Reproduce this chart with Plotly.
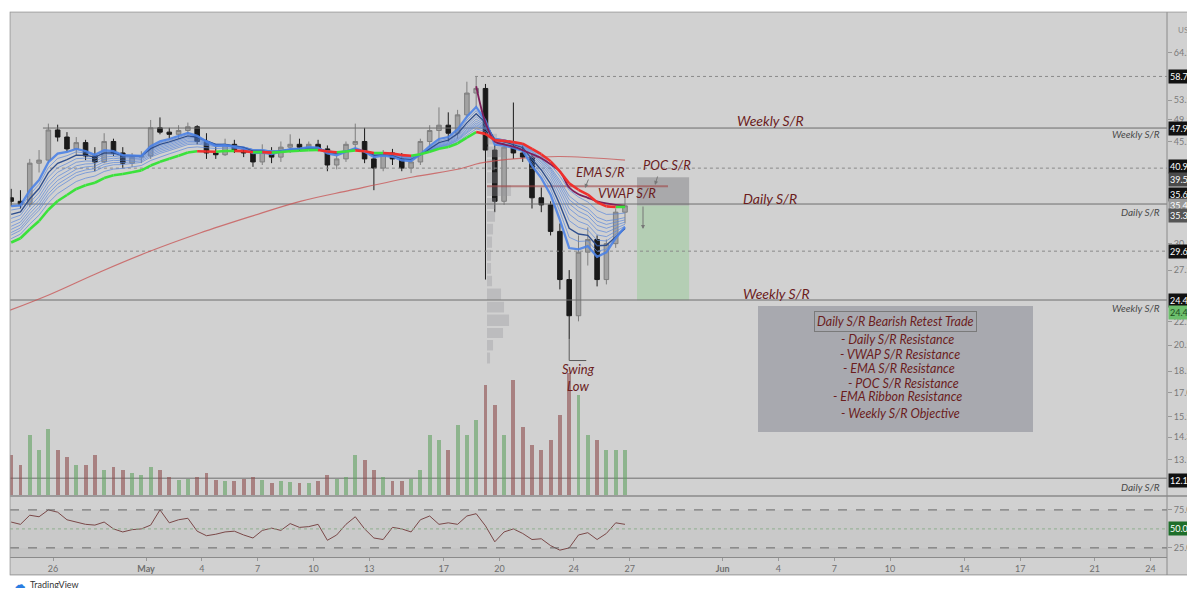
import numpy as np
import pandas as pd
import plotly.graph_objects as go

# ---------------- data (12h candles, USDT) ----------------
first_candle = "2021-04-23 18:00"
opens = [36.5, 36.0, 35.6, 41.8, 42.3, 47.6, 46.3, 44.2, 45.3, 43.0,
         42.0, 45.5, 43.5, 41.8, 42.8, 43.0, 48.0, 47.2, 46.8, 47.5,
         48.2, 45.5, 43.5, 43.2, 45.0, 44.0, 43.5, 42.0, 43.8, 42.8,
         44.5, 45.0, 44.5, 45.0, 44.2, 41.5, 42.5, 45.0, 45.5, 42.5,
         41.0, 43.5, 42.5, 41.0, 42.0, 45.5, 47.5, 48.5, 47.0, 50.5,
         55.0, 56.0, 44.0, 36.0, 44.5, 43.5, 42.8, 36.5, 35.5, 32.0,
         26.5, 23.0, 29.5, 31.0, 26.5, 30.5, 34.5]
highs = [37.8, 37.6, 42.5, 44.0, 48.8, 48.6, 47.2, 46.3, 45.8, 44.5,
         47.0, 46.0, 44.5, 43.5, 43.8, 49.5, 50.0, 48.0, 48.5, 49.0,
         48.5, 47.0, 44.5, 46.0, 45.8, 44.5, 44.0, 45.0, 44.5, 45.5,
         46.8, 46.0, 45.5, 45.8, 44.8, 43.0, 45.5, 48.8, 48.0, 43.5,
         44.0, 44.2, 43.5, 42.8, 46.0, 48.5, 52.0, 51.0, 51.5, 57.5,
         58.7, 57.0, 45.0, 45.5, 53.0, 44.8, 43.2, 38.0, 36.0, 33.0,
         27.5, 31.5, 32.5, 31.5, 31.0, 35.0, 36.5]
lows = [35.3, 35.0, 35.2, 40.3, 41.8, 45.5, 43.8, 43.0, 42.3, 40.5,
        41.8, 43.0, 41.0, 41.2, 41.8, 42.5, 46.8, 46.0, 46.0, 46.8,
        45.0, 42.5, 42.5, 43.0, 43.5, 42.8, 41.2, 41.5, 41.8, 42.0,
        43.5, 43.8, 44.0, 43.8, 40.5, 40.8, 42.0, 44.0, 41.8, 37.6,
        40.5, 41.5, 40.5, 40.2, 41.5, 44.5, 45.5, 45.5, 46.0, 50.0,
        52.0, 26.5, 34.5, 35.5, 42.5, 42.0, 35.0, 34.5, 31.5, 25.5,
        21.0, 22.5, 28.0, 25.8, 26.0, 30.0, 33.0]
closes = [36.0, 35.6, 41.8, 42.3, 47.6, 46.3, 44.2, 45.3, 43.0, 42.0,
          45.5, 43.5, 41.8, 42.8, 43.0, 48.0, 47.2, 46.8, 47.5, 48.2,
          45.5, 43.5, 43.2, 45.0, 44.0, 43.5, 42.0, 43.8, 42.8, 44.5,
          45.0, 44.5, 45.0, 44.2, 41.5, 42.5, 45.0, 45.5, 42.5, 41.0,
          43.5, 42.5, 41.0, 42.0, 45.5, 47.5, 48.5, 47.0, 50.5, 55.0,
          56.0, 44.0, 36.0, 44.5, 43.5, 42.8, 36.5, 35.5, 32.0, 26.5,
          23.0, 29.5, 31.0, 26.5, 30.5, 34.5, 35.37]
volumes = [40, 30, 60, 45, 66, 45, 38, 30, 30, 40,
           25, 28, 25, 22, 20, 28, 25, 18, 15, 16,
           18, 22, 15, 14, 14, 16, 18, 15, 12, 14,
           13, 12, 12, 14, 20, 16, 18, 40, 35, 25,
           18, 14, 14, 16, 25, 60, 55, 45, 70, 60,
           75, 110, 90, 60, 115, 68, 50, 45, 55, 80,
           122, 100, 60, 55, 45, 45, 45]
rsi = [59, 56, 68, 66, 75, 72, 62, 59, 56, 55,
       59, 50, 46, 49, 50, 55, 75, 58, 62, 64,
       47, 41, 43, 46, 47, 42, 38, 48, 51, 48,
       57, 52, 53, 56, 35, 42, 56, 66, 50, 38,
       36, 52, 50, 46, 62, 67, 56, 58, 56, 67,
       70, 54, 33, 46, 50, 44, 36, 37, 28, 22,
       25, 42, 45, 36, 44, 58, 56]

ema_periods = [5, 6, 7, 8, 9, 10, 11, 12, 13, 15, 18]
ema_seeds = [35.0, 34.3, 33.6, 33.0, 32.4, 31.9, 31.5, 31.1, 30.8, 30.4, 30.0]

ma_long_times = ["2021-04-23 16:30", "2021-04-25 20:00", "2021-04-28 12:40", "2021-05-01 05:00",
                 "2021-05-03 21:40", "2021-05-06 14:20", "2021-05-09 07:00", "2021-05-12 00:00",
                 "2021-05-15 08:30", "2021-05-17 21:30", "2021-05-18 23:00", "2021-05-21 02:40",
                 "2021-05-23 06:00", "2021-05-26 18:00"]
ma_long_values = [23.5, 25.0, 27.3, 29.6, 31.8, 33.9, 36.0, 37.6, 39.6, 40.9, 41.8, 42.6, 42.9, 42.3]

vwap_start_index = 50
vwap_values = [56.5, 49.0, 45.5, 45.0, 44.6, 44.0, 43.3, 42.6, 41.6, 40.5,
               38.0, 37.0, 36.5, 36.0, 35.7, 35.5, 35.4]

level_values = [58.700, 47.962, 40.992, 35.619, 29.617, 24.461, 12.176]
level_dash = ["dot", "solid", "dot", "solid", "dot", "solid", "solid"]
level_start = ["2021-05-18 16:30", "2021-04-25 11:00", "2021-04-25 20:00", "2021-04-23 16:30",
               "2021-04-23 16:30", "2021-04-23 16:30", "2021-04-23 16:30"]

poc_price = 38.2
poc_start, poc_end = "2021-05-19 08:00", "2021-05-29 01:30"

vp_anchor = "2021-05-19 08:00"
vp_edges = [19.0, 20.0, 21.0, 22.0, 23.2, 24.4, 25.7, 27.0, 28.4, 29.9,
            31.5, 33.1, 34.8, 36.6, 38.5, 40.5, 42.6, 44.8, 47.1]
vp_volume = [3, 6, 16, 22, 17, 14, 5, 4, 4, 5, 6, 8, 9, 24, 10, 8, 20, 10]
vp_hours_per_unit = 1.29

pos_stop, pos_entry, pos_target = 39.54, 35.43, 24.43
pos_start, pos_end = "2021-05-27 09:30", "2021-05-30 04:45"

swing_marker_price = 19.3

x_left, x_right = "2021-04-23 16:30", "2021-06-24 21:20"
x_tickvals = ["2021-04-26", "2021-05-01", "2021-05-04", "2021-05-07", "2021-05-10", "2021-05-13",
              "2021-05-17", "2021-05-20", "2021-05-24", "2021-05-27", "2021-06-01", "2021-06-04",
              "2021-06-07", "2021-06-10", "2021-06-14", "2021-06-17", "2021-06-21", "2021-06-24"]
x_ticktext = ["26", "<b>May</b>", "4", "7", "10", "13", "17", "20", "24", "27", "<b>Jun</b>",
              "4", "7", "10", "14", "17", "21", "24"]
price_ticks = [64.5, 53.5, 49.5, 45.5, 30.5, 27.5, 22.5, 20.5, 18.5, 17.0, 15.5, 14.3, 13.1]
price_range = [11.40, 75.25]
rsi_range = [13, 92]

# ---------------- figure ----------------
# the page places the figure 8 px from the window's top-left corner
PAGE = 8
W, H = 1195 - PAGE, 596 - 2 * PAGE
ML, MT = 10 - PAGE, 13 - PAGE
MR = W - (1167 - PAGE)
MB = H - (557 - PAGE)
PW, PH = W - ML - MR, H - MT - MB
def px(x): return (x - PAGE - ML) / PW      # x, y in window pixels
def py(y): return (H - MB - (y - PAGE)) / PH

BG = "#d1d1d1"
DR = "#6b1d1d"
FONT = "Lato"

t = pd.date_range(first_candle, periods=len(closes), freq="12h")
c = np.array(closes)

fig = go.Figure()

# volume profile boxes
vx, vy = [], []
t_anchor = pd.Timestamp(vp_anchor)
for lo, hi, v in zip(vp_edges[:-1], vp_edges[1:], vp_volume):
    t1 = t_anchor + pd.Timedelta(hours=v * vp_hours_per_unit)
    vx += [t_anchor, t1, t1, t_anchor, t_anchor, None]
    vy += [lo * 1.004, lo * 1.004, hi / 1.004, hi / 1.004, lo * 1.004, None]
fig.add_trace(go.Scatter(x=vx, y=vy, mode="lines", fill="toself", line=dict(width=0),
                         fillcolor="rgba(150,150,155,0.35)", hoverinfo="skip"))

# position tool
ps, pe = pd.Timestamp(pos_start), pd.Timestamp(pos_end)
fig.add_trace(go.Scatter(x=[ps, pe, pe, ps, ps], y=[pos_entry, pos_entry, pos_stop, pos_stop, pos_entry],
                         mode="lines", fill="toself", line=dict(width=0), fillcolor="rgba(105,105,110,0.38)"))
fig.add_trace(go.Scatter(x=[ps, pe, pe, ps, ps], y=[pos_target, pos_target, pos_entry, pos_entry, pos_target],
                         mode="lines", fill="toself", line=dict(width=0), fillcolor="rgba(120,200,120,0.33)"))

# horizontal S/R levels
for v, d, s in zip(level_values, level_dash, level_start):
    fig.add_trace(go.Scatter(x=[pd.Timestamp(s), pd.Timestamp(x_right)], y=[v, v], mode="lines",
                             line=dict(color="#6e6e6e" if d == "solid" else "#8a8a8a", width=1, dash=d)))

# long moving average
fig.add_trace(go.Scatter(x=pd.to_datetime(ma_long_times), y=ma_long_values, mode="lines",
                         line=dict(color="rgba(200,80,80,0.75)", width=1.2, shape="spline")))

# POC line
fig.add_trace(go.Scatter(x=[pd.Timestamp(poc_start), pd.Timestamp(poc_end)], y=[poc_price, poc_price],
                         mode="lines", line=dict(color="rgba(160,70,70,0.6)", width=2)))

# EMA ribbon
ribbon = []
for p, s in zip(ema_periods, ema_seeds):
    a = 2.0 / (p + 1)
    e = s
    vals = []
    for v in c:
        e = e + a * (v - e)
        vals.append(e)
    ribbon.append(np.array(vals))
for k, p in enumerate(ema_periods[1:-1], start=1):
    if p == 7:
        continue
    fig.add_trace(go.Scatter(x=t, y=ribbon[k], mode="lines", line=dict(color="rgba(90,135,220,0.7)", width=1)))
fig.add_trace(go.Scatter(x=t, y=ribbon[ema_periods.index(7)], mode="lines",
                         line=dict(color="#2f4f8f", width=1.4)))
fig.add_trace(go.Scatter(x=t, y=ribbon[0], mode="lines", line=dict(color="rgba(75,130,230,0.9)", width=2.3)))

# VWAP (anchored)
fig.add_trace(go.Scatter(x=t[vwap_start_index:vwap_start_index + len(vwap_values)], y=vwap_values,
                         mode="lines", line=dict(color="#7d1f5a", width=1.8, shape="spline")))

# slowest EMA coloured by price side
slow = ribbon[-1]
above = c >= slow
gx, gy, rx, ry = [], [], [], []
for i in range(len(c) - 1):
    X, Y = (gx, gy) if above[i + 1] else (rx, ry)
    X += [t[i], t[i + 1], None]
    Y += [slow[i], slow[i + 1], None]
fig.add_trace(go.Scatter(x=gx, y=gy, mode="lines", line=dict(color="#3be23b", width=2.6)))
fig.add_trace(go.Scatter(x=rx, y=ry, mode="lines", line=dict(color="#f0302c", width=2.6)))

# candles
fig.add_trace(go.Candlestick(x=t, open=opens, high=highs, low=lows, close=closes, whiskerwidth=0,
                             increasing=dict(line=dict(color="#7f7f7f", width=1), fillcolor="#a2a2a2"),
                             decreasing=dict(line=dict(color="#1a1a1a", width=1), fillcolor="#1a1a1a")))

# swing low marker
isw = int(np.argmin(lows))
fig.add_trace(go.Scatter(x=[t[isw], t[isw], t[isw] + pd.Timedelta(hours=22)],
                         y=[lows[isw], swing_marker_price, swing_marker_price],
                         mode="lines", line=dict(color="#5a5a5a", width=1)))

# volume
vcol = ["rgba(95,160,95,0.6)" if cl >= op else "rgba(140,75,75,0.6)" for op, cl in zip(opens, closes)]
fig.add_trace(go.Bar(x=t, y=volumes, marker=dict(color=vcol, line=dict(width=0)),
                     width=12 * 3600 * 1000 * 0.42, yaxis="y3"))

# RSI
fig.add_trace(go.Scatter(x=t, y=rsi, mode="lines", line=dict(color="#7a4848", width=1), yaxis="y2"))

shapes = []
# RSI pane band & levels
shapes.append(dict(type="rect", xref="paper", yref="y2", x0=0, x1=1, y0=25, y1=75,
                   fillcolor="rgba(0,0,0,0.035)", line=dict(width=0), layer="below"))
shapes.append(dict(type="rect", xref="paper", yref="y2", x0=0, x1=1, y0=rsi_range[0], y1=25,
                   fillcolor="rgba(0,0,0,0.06)", line=dict(width=0), layer="below"))
for lv, dsh, col in [(75, "dash", "#666"), (25, "dash", "#666"), (50, "dot", "#8fae8f")]:
    shapes.append(dict(type="line", xref="paper", yref="y2", x0=0, x1=1, y0=lv, y1=lv,
                       line=dict(color=col, width=1, dash=dsh)))
# pane separator
shapes.append(dict(type="line", xref="paper", yref="paper", x0=px(10), x1=px(1195), y0=py(496), y1=py(496),
                   line=dict(color="#8a8a8a", width=1.5)))
# price axis vertical line and frame lines
shapes.append(dict(type="line", xref="paper", yref="paper", x0=1, x1=1, y0=py(575), y1=py(12),
                   line=dict(color="#8a8a8a", width=1)))
shapes.append(dict(type="line", xref="paper", yref="paper", x0=px(10), x1=px(1195), y0=py(575), y1=py(575),
                   line=dict(color="#8a8a8a", width=1)))
shapes.append(dict(type="line", xref="paper", yref="paper", x0=px(10), x1=px(10), y0=py(575), y1=py(12),
                   line=dict(color="#9a9a9a", width=1)))
shapes.append(dict(type="line", xref="paper", yref="paper", x0=px(10), x1=px(1195), y0=py(12), y1=py(12),
                   line=dict(color="#9a9a9a", width=1)))
# white page margins
for x0, x1, y0, y1 in [(-5, 9.5, -5, 700), (-5, 1300, -5, 11.5), (-5, 1300, 575.5, 700)]:
    shapes.append(dict(type="rect", xref="paper", yref="paper", x0=px(x0), x1=px(x1), y0=py(y1), y1=py(y0),
                       fillcolor="white", line=dict(width=0), layer="above"))
# info box
shapes.append(dict(type="rect", xref="paper", yref="paper", x0=px(758), x1=px(1033), y0=py(432), y1=py(306),
                   fillcolor="rgba(135,137,147,0.55)", line=dict(width=0)))

ann = []
def txt(x, y, s, size=13, color=DR, **kw):
    d = dict(x=px(x), y=py(y), xref="paper", yref="paper", text="<i>%s</i>" % s, showarrow=False,
             font=dict(size=size, color=color, family=FONT), xanchor="center", yanchor="middle")
    d.update(kw)
    ann.append(d)

txt(770, 121, "Weekly S/R", 14)
txt(770, 198, "Daily S/R", 14)
txt(776, 293, "Weekly S/R", 14)
txt(600, 172, "EMA S/R", 13)
txt(627, 193, "VWAP S/R", 13)
txt(667, 165, "POC S/R", 13)
txt(578, 377, "Swing<br>Low", 13)
for y, s in [(134, "Weekly S/R"), (212, "Daily S/R"), (308, "Weekly S/R"), (487, "Daily S/R")]:
    txt(1162, y, s, 10, "#4a4a4a", xanchor="right")
txt(895, 321, "Daily S/R Bearish Retest Trade", 12.5, bordercolor="#7a7a7a", borderwidth=1, borderpad=2)
for x, y, s in [(897, 339, "- Daily S/R Resistance"), (900, 354, "- VWAP S/R Resistance"),
                (899, 368, "- EMA S/R Resistance"), (903, 383, "- POC S/R Resistance"),
                (897, 397, "- EMA Ribbon Resistance"), (900, 413, "- Weekly S/R Objective")]:
    txt(x, y, s, 12.5)

# small arrows
for x, y, ax_, ay_ in [(585, 188, 4, -10), (655, 185, 3, -10), (643, 229, 0, -24)]:
    ann.append(dict(x=px(x), y=py(y), xref="paper", yref="paper", text="", showarrow=True,
                    ax=ax_, ay=ay_, arrowhead=2, arrowsize=0.8, arrowwidth=1, arrowcolor="#777"))

# price labels on the axis
def plabel(v, s, bg, fg="white", yshift=0, yref="y"):
    yy = np.log10(v) if yref == "y" else v
    ann.append(dict(x=1, y=yy, xref="paper", yref=yref, text=s, showarrow=False, xanchor="left",
                    yanchor="middle", xshift=1, yshift=yshift, bgcolor=bg, borderpad=1,
                    font=dict(size=9, color=fg, family=FONT)))

plabel(58.700, "58.700", "#111")
plabel(47.962, "47.962", "#111")
plabel(40.992, "40.992", "#111", yshift=2)
plabel(39.540, "39.540", "#4a4a4a", yshift=-2)
plabel(35.619, "35.619", "#111", yshift=10)
plabel(35.430, "35.430", "#9a9a9a", yshift=0)
plabel(35.366, "35.366", "#555", yshift=-10)
plabel(29.617, "29.617", "#111")
plabel(24.461, "24.461", "#111")
plabel(24.430, "24.430", "#6cbf6c", fg="#1d4d1f", yshift=-12)
plabel(12.176, "12.176", "#111", yshift=-2)
plabel(50, "50.00", "#1e6e2a", yref="y2")

ann.append(dict(x=px(1176), y=py(23), xref="paper", yref="paper", text="USDT", showarrow=False,
                font=dict(size=8, color="#888", family=FONT), xanchor="left"))
ann.append(dict(x=px(11), y=py(584), xref="paper", yref="paper", text="☁", showarrow=False,
                font=dict(size=13, color="#2a7de1"), xanchor="left", yanchor="middle"))
ann.append(dict(x=px(28), y=py(584), xref="paper", yref="paper", text="TradingView", showarrow=False,
                font=dict(size=9, color="#333", family=FONT), xanchor="left", yanchor="middle"))

main_bottom = py(495)
fig.update_layout(
    width=W, height=H, margin=dict(l=ML, r=MR, t=MT, b=MB, autoexpand=False),
    paper_bgcolor=BG, plot_bgcolor=BG, showlegend=False, bargap=0,
    font=dict(family=FONT, size=9, color="#6f6f6f"),
    xaxis=dict(type="date", range=[x_left, x_right], anchor="y2", tickvals=x_tickvals, ticktext=x_ticktext,
               tickfont=dict(size=9, color="#6f6f6f"), ticks="outside", ticklen=3, tickcolor="#999",
               showgrid=False, zeroline=False, showline=True, linecolor="#8a8a8a", automargin=False,
               rangeslider=dict(visible=False)),
    yaxis=dict(domain=[main_bottom, 1], type="log", range=[np.log10(price_range[0]), np.log10(price_range[1])],
               side="right", tickvals=price_ticks, ticktext=["%.3f" % v for v in price_ticks],
               tickfont=dict(size=9, color="#7a7a7a"), ticks="outside", ticklen=4, tickcolor="#999",
               showgrid=False, zeroline=False, showline=False, automargin=False),
    yaxis2=dict(domain=[0, py(497)], range=rsi_range, side="right", tickvals=[25, 75],
                ticktext=["25.00", "75.00"], tickfont=dict(size=9, color="#7a7a7a"), ticks="outside",
                ticklen=4, tickcolor="#999", showgrid=False, zeroline=False, automargin=False),
    yaxis3=dict(overlaying="y", range=[0, 482], visible=False, showgrid=False, automargin=False),
    shapes=shapes, annotations=ann,
)

fig.write_html("out.html")
